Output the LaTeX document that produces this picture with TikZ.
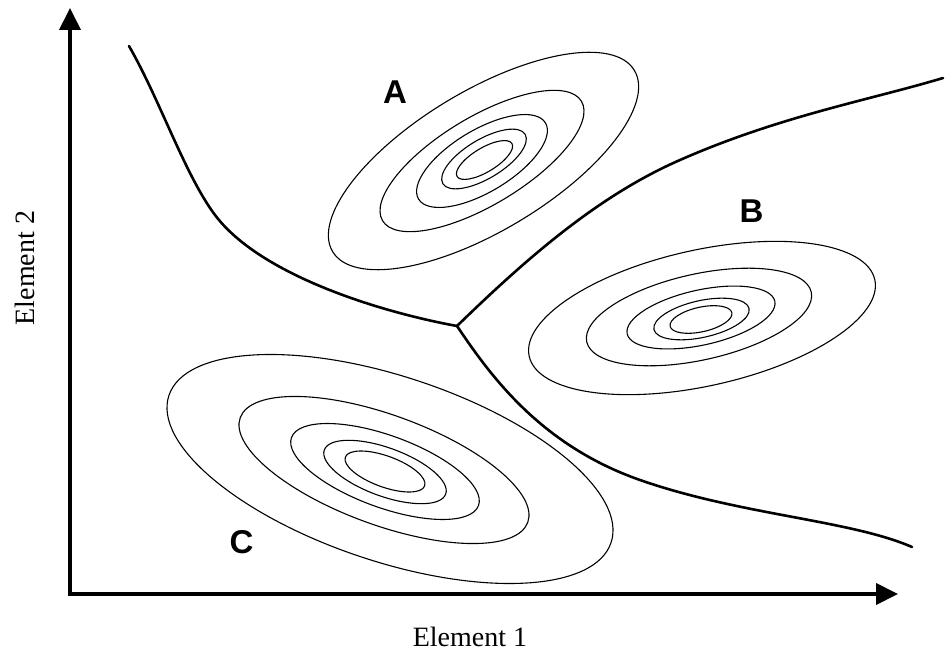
\documentclass[tikz,border=0pt]{standalone}
\usepackage{fontspec}
\setmainfont{Liberation Serif}
\newfontfamily\labelfont{Liberation Sans}
\usetikzlibrary{arrows.meta}
\begin{document}
\begin{tikzpicture}[x=1pt,y=-1pt,
  axis/.style={line width=4pt, line join=miter,
    {Triangle[length=22pt,width=21pt]}-{Triangle[length=22pt,width=21pt]}},
  boundary/.style={line width=2.6pt, line cap=round, line join=round},
  contour/.style={line width=1.1pt},
  clabel/.style={font=\labelfont\bfseries\fontsize{33}{33}\selectfont, anchor=base, inner sep=0pt},
  axlabel/.style={font=\fontsize{28}{28}\selectfont, anchor=base, inner sep=0pt}]
\useasboundingbox (0,0) rectangle (945,652);

% axes
\coordinate (Ytip) at (70,8);
\coordinate (O) at (70,594);
\coordinate (Xtip) at (898,594);
\draw[axis] (Ytip) -- (O) -- (Xtip);

\node[axlabel] (xlab) at (470,646) {Element 1};
\node[axlabel, rotate=90] (ylab) at (34,268) {Element 2};

% decision boundaries
\coordinate (J) at (457,326);
\coordinate (L1) at (129,46);
\coordinate (L2) at (943,78);
\coordinate (L3) at (912,547);
\draw[boundary] (L1) .. controls (160,100) and (185,175) .. (215,215)
                     .. controls (260,275) and (380,312) .. (J);
\draw[boundary] (J) .. controls (530,255) and (600,195) .. (680,160)
                    .. controls (780,116) and (870,100) .. (L2);
\draw[boundary] (J) .. controls (490,375) and (540,445) .. (640,480)
                    .. controls (740,515) and (850,520) .. (L3);

% cluster A
\begin{scope}[contour]
\draw[rotate around={31:(483.5,161)}] (483.5,161) ellipse [x radius=176, y radius=70];
\draw[rotate around={31:(482,161)}] (482,161) ellipse [x radius=116, y radius=44];
\draw[rotate around={31:(482,161)}] (482,161) ellipse [x radius=74, y radius=31];
\draw[rotate around={31:(484,159)}] (484,159) ellipse [x radius=48, y radius=19.5];
\draw[rotate around={31:(484.5,160)}] (484.5,160) ellipse [x radius=32, y radius=12];
\end{scope}

% cluster B
\begin{scope}[contour]
\draw[rotate around={12.5:(702,318)}] (702,318) ellipse [x radius=177, y radius=68];
\draw[rotate around={12.5:(699,317)}] (699,317) ellipse [x radius=115, y radius=43];
\draw[rotate around={12.5:(701,317.5)}] (701,317.5) ellipse [x radius=75.6, y radius=27.5];
\draw[rotate around={12.5:(701.5,319)}] (701.5,319) ellipse [x radius=48.7, y radius=18.4];
\draw[rotate around={12.5:(701,319.5)}] (701,319.5) ellipse [x radius=31.6, y radius=12.3];
\end{scope}

% cluster C
\begin{scope}[contour]
\draw[rotate around={-18.4:(390,469)}] (390,469) ellipse [x radius=233, y radius=92.5];
\draw[rotate around={-20:(384,470)}] (384,470) ellipse [x radius=153, y radius=55];
\draw[rotate around={-20:(385,471.5)}] (385,471.5) ellipse [x radius=99.5, y radius=36];
\draw[rotate around={-20:(385,472)}] (385,472) ellipse [x radius=64.6, y radius=24.2];
\draw[rotate around={-20:(385,471.5)}] (385,471.5) ellipse [x radius=42.2, y radius=15.5];
\end{scope}

% labels
\node[clabel] (labA) at (395,104) {A};
\node[clabel] (labB) at (751.5,223) {B};
\node[clabel] (labC) at (241.5,553) {C};
\end{tikzpicture}
\end{document}
